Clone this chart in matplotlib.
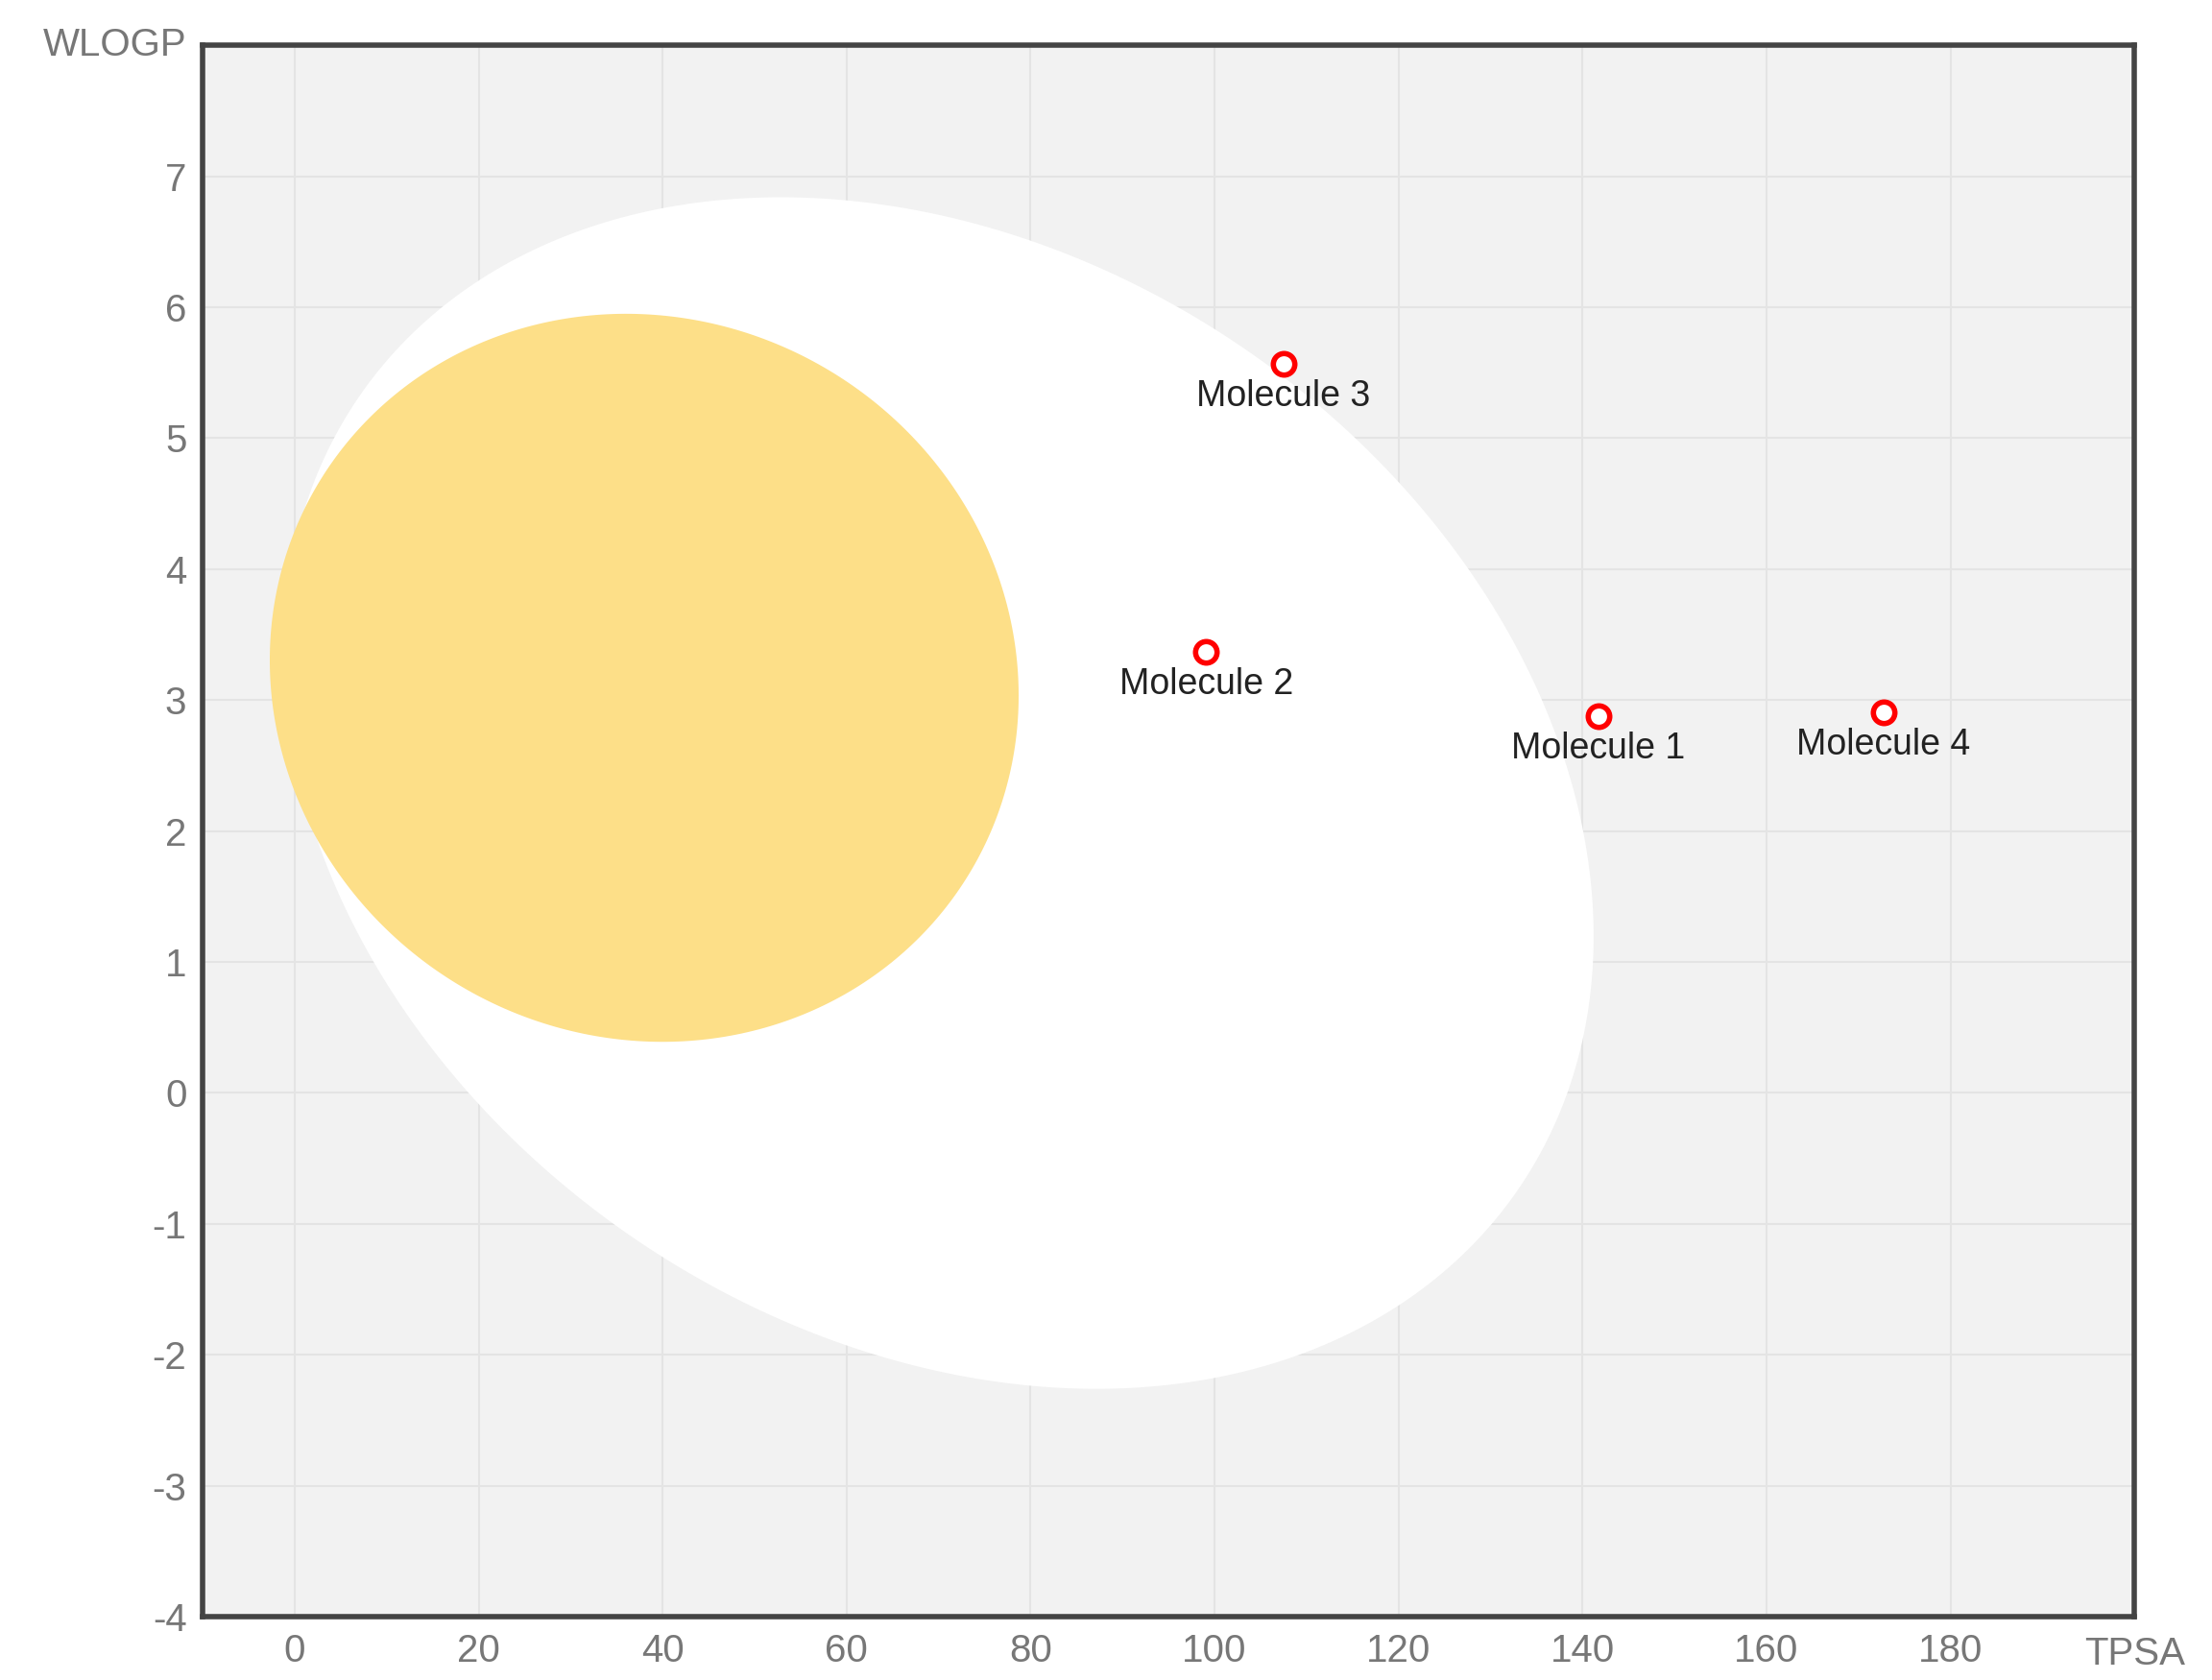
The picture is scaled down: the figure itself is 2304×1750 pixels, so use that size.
import numpy as np
import matplotlib.pyplot as plt

# BOILED-Egg style plot: TPSA vs WLOGP
molecules = ["Molecule 1", "Molecule 2", "Molecule 3", "Molecule 4"]
tpsa = [141.7, 99.1, 107.5, 172.7]
wlogp = [2.88, 3.37, 5.57, 2.91]

x_ticks = [0, 20, 40, 60, 80, 100, 120, 140, 160, 180]
y_ticks = [-4, -3, -2, -1, 0, 1, 2, 3, 4, 5, 6, 7]

# ellipse regions: centre, half extents, covariance term
white_region = dict(cx=70.0, cy=2.29, rx=71.2, ry=4.55, s=-78.0)
yolk_region = dict(cx=38.0, cy=3.17, rx=40.7, ry=2.78, s=-5.5)


def ellipse_points(cx, cy, rx, ry, s, n=400):
    t = np.linspace(0, 2 * np.pi, n)
    c = s / rx
    d = np.sqrt(max(ry ** 2 - c ** 2, 1e-9))
    x = cx + rx * np.cos(t)
    y = cy + c * np.cos(t) + d * np.sin(t)
    return x, y


plt.rcParams["font.family"] = "Liberation Sans"
plt.rcParams["axes.unicode_minus"] = False

fig = plt.figure(figsize=(23.04, 17.5), dpi=100)
ax = fig.add_axes([0.0916, 0.0377, 0.8784 - 0.005, 0.9353])
ax.set_facecolor("#f2f2f2")
ax.set_xlim(-10, 200)
ax.set_ylim(-4, 8)

ax.set_xticks(x_ticks)
ax.set_yticks(y_ticks)
ax.grid(True, color="#e4e4e4", linewidth=1.5, zorder=0)
ax.set_axisbelow(True)
ax.tick_params(length=0, labelsize=29, colors="#777777", pad=12)

wx, wy = ellipse_points(**white_region)
ax.fill(wx, wy, color="white", zorder=1, lw=0)
yx, yy = ellipse_points(**yolk_region)
ax.fill(yx, yy, color="#fddf88", zorder=2, lw=0)

ax.scatter(tpsa, wlogp, s=260, facecolors="white", edgecolors="#ff0000",
           linewidths=4, zorder=4)
for name, x, y in zip(molecules, tpsa, wlogp):
    ax.annotate(name, (x, y), xytext=(0, -12), textcoords="offset points",
                ha="center", va="top", fontsize=27, color="#222222", zorder=5)

for side in ax.spines.values():
    side.set_color("#444444")
    side.set_linewidth(4)

ax.text(-0.008, 1.0, "WLOGP", transform=ax.transAxes, ha="right", va="center",
        fontsize=29, color="#777777")
ax.text(1.0, -0.012, "TPSA", transform=ax.transAxes, ha="center", va="top",
        fontsize=29, color="#777777")

plt.savefig("out.png")
